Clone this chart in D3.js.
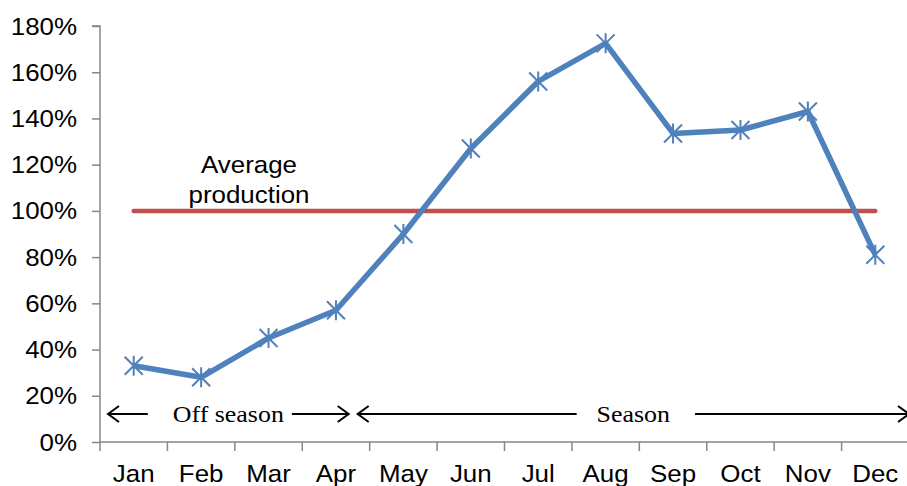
<!DOCTYPE html>
<html>
<head>
<meta charset="utf-8">
<script src="https://cdn.jsdelivr.net/npm/d3@7"></script>
<style>
  html, body { margin: 0; padding: 0; background: #fff; overflow: hidden; }
  svg { display: block; }
</style>
</head>
<body>
<svg id="chart" width="907" height="486"></svg>
<script>
// Monthly production relative to the yearly average
const months = ["Jan", "Feb", "Mar", "Apr", "May", "Jun", "Jul", "Aug", "Sep", "Oct", "Nov", "Dec"];
const production = [33, 28, 45, 57, 90, 127, 156, 172.5, 133.5, 135, 143, 81];
const averageLevel = 100;
const yTicks = [0, 20, 40, 60, 80, 100, 120, 140, 160, 180];
const averageLabel = ["Average", "production"];
const seasonLabels = ["Off season", "Season"];
const seasonStarts = ["Jan", "May"];
const seasonEnds = ["Apr", "Dec"];

const svg = d3.select("#chart");
const plotLeft = 100, plotRight = 909, plotTop = 26, plotBottom = 442;
const sx = 1.08; // horizontal text stretch

const x = d3.scaleBand().domain(months).range([plotLeft, plotRight]);
const cx = m => x(m) + x.bandwidth() / 2;
const y = d3.scaleLinear().domain([0, 180]).range([plotBottom, plotTop]);

const axisColor = "#868686";
const blue = "#4F81BD";
const red = "#C0504D";

// Y axis
const yAxis = svg.append("g")
  .attr("transform", `translate(${plotLeft},0)`)
  .call(d3.axisLeft(y).tickValues(yTicks).tickSize(8).tickFormat(d => d + "%"));
yAxis.select(".domain").attr("stroke", axisColor).attr("stroke-width", 1.5)
  .attr("d", `M-8,${y(180)}H0V${plotBottom}`);
yAxis.selectAll(".tick line").attr("stroke", axisColor).attr("stroke-width", 1.5);
yAxis.selectAll(".tick text")
  .attr("x", 0).attr("dy", null).attr("y", 0)
  .attr("transform", "translate(-23,8) scale(" + sx + ",1)")
  .attr("font-family", "Liberation Sans, Arial, sans-serif")
  .attr("font-size", 24).attr("fill", "#000");

// X axis: baseline plus ticks at category boundaries
const xg = svg.append("g");
xg.append("line")
  .attr("x1", plotLeft).attr("x2", plotRight).attr("y1", plotBottom).attr("y2", plotBottom)
  .attr("stroke", axisColor).attr("stroke-width", 1.5);
const bounds = months.map(m => x(m)).concat([x.range()[1]]);
xg.selectAll("line.tk").data(bounds).join("line")
  .attr("class", "tk")
  .attr("x1", d => d).attr("x2", d => d)
  .attr("y1", plotBottom).attr("y2", plotBottom + 9)
  .attr("stroke", axisColor).attr("stroke-width", 1.5);
xg.selectAll("text").data(months).join("text")
  .attr("transform", d => `translate(${cx(d)},482) scale(${sx},1)`)
  .attr("text-anchor", "middle")
  .attr("font-family", "Liberation Sans, Arial, sans-serif")
  .attr("font-size", 24).attr("fill", "#000")
  .text(d => d);

// Average production line
svg.append("line")
  .attr("x1", cx(months[0])).attr("x2", cx(months[months.length - 1]))
  .attr("y1", y(averageLevel)).attr("y2", y(averageLevel))
  .attr("stroke", red).attr("stroke-width", 4.5).attr("stroke-linecap", "round");

svg.append("g").selectAll("text").data(averageLabel).join("text")
  .attr("transform", (d, i) => `translate(249,${173 + i * 30}) scale(${sx},1)`)
  .attr("text-anchor", "middle")
  .attr("font-family", "Liberation Sans, Arial, sans-serif")
  .attr("font-size", 24).attr("fill", "#000")
  .text(d => d);

// Production series
const line = d3.line().x((d, i) => cx(months[i])).y(d => y(d));
svg.append("path")
  .datum(production)
  .attr("d", line)
  .attr("fill", "none").attr("stroke", blue)
  .attr("stroke-width", 5.5).attr("stroke-linejoin", "round");

const r = 9;
const star = `M${-r},${-r}L${r},${r}M${-r},${r}L${r},${-r}M0,${-r - 1}L0,${r + 1}`;
svg.append("g").selectAll("path").data(production).join("path")
  .attr("transform", (d, i) => `translate(${cx(months[i])},${y(d)})`)
  .attr("d", star)
  .attr("fill", "none").attr("stroke", blue).attr("stroke-width", 2);

// Season annotations with arrows
const ann = svg.append("g");
const arrowY = 414;
const head = (tipX, dir) => `M${tipX - dir * 11},${arrowY - 8}L${tipX},${arrowY}L${tipX - dir * 11},${arrowY + 8}`;
const spans = [
  { x0: x(seasonStarts[0]) + 8, x1: x(seasonEnds[0]) + x.bandwidth() - 21, gapL: 25, gapR: 8 },
  { x0: x(seasonStarts[1]) - 12, x1: x(seasonEnds[1]) + x.bandwidth(), gapL: 20, gapR: 25 }
];
seasonLabels.forEach((label, i) => {
  const s = spans[i];
  const mid = (s.x0 + s.x1) / 2;
  const t = ann.append("text")
    .attr("transform", `translate(${mid},422) scale(${sx},1)`)
    .attr("text-anchor", "middle")
    .attr("font-family", "Liberation Serif, Times New Roman, serif")
    .attr("font-size", 24).attr("fill", "#000")
    .text(label);
  const half = t.node().getComputedTextLength() * sx / 2;
  ann.append("path")
    .attr("d", `M${s.x0},${arrowY}L${mid - half - s.gapL},${arrowY}` + head(s.x0, -1))
    .attr("fill", "none").attr("stroke", "#000").attr("stroke-width", 2);
  ann.append("path")
    .attr("d", `M${mid + half + s.gapR},${arrowY}L${s.x1},${arrowY}` + head(s.x1, 1))
    .attr("fill", "none").attr("stroke", "#000").attr("stroke-width", 2);
});
</script>
</body>
</html>
